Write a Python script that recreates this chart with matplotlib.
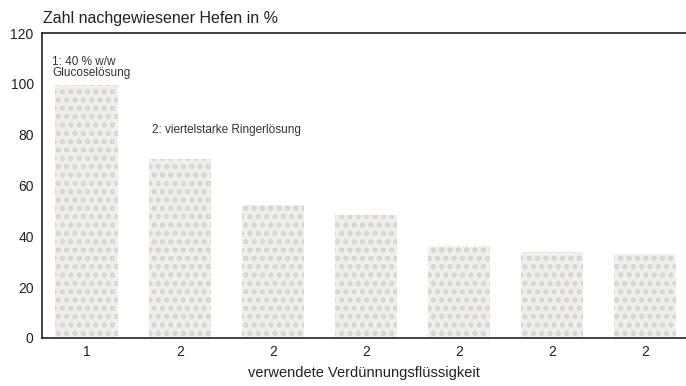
import numpy as np
import matplotlib.pyplot as plt

plt.rcParams['font.family'] = ['Liberation Sans', 'DejaVu Sans']
plt.rcParams['hatch.linewidth'] = 1.2

labels = ["1", "2", "2", "2", "2", "2", "2"]
values = [99.5, 70.5, 52.5, 48.5, 36, 34, 33]

fig = plt.figure(figsize=(6.86, 3.86), dpi=100)
ax = fig.add_axes([0.0612, 0.1244, 0.9388, 0.79])

x = np.arange(len(values))
ax.bar(x, values, width=0.67, color='#f1efeb', edgecolor='#d9d6d0', linewidth=0, hatch='oo')

ax.set_xlim(-0.48, 6.44)
ax.set_ylim(0, 120)
ax.set_xticks(x)
ax.set_xticklabels(labels)
ax.set_yticks(range(0, 121, 20))
ax.tick_params(length=0, labelsize=10, colors='#222222')
ax.tick_params(axis='y', pad=6)
ax.tick_params(axis='x', pad=5)
for s in ['left', 'bottom', 'top']:
    ax.spines[s].set_color('#222222')
    ax.spines[s].set_linewidth(1.2)
ax.spines['right'].set_visible(False)

ax.set_xlabel("verwendete Verdünnungsflüssigkeit", fontsize=10.5, color='#222222', labelpad=5)
fig.text(0.062, 0.952, "Zahl nachgewiesener Hefen in %", fontsize=11.5, color='#222222', va='center', ha='left')

ax.text(-0.37, 111, "1: 40 % w/w\nGlucoselösung", fontsize=8.5, color='#333333',
        va='top', ha='left', linespacing=0.95)
ax.text(0.7, 82, "2: viertelstarke Ringerlösung", fontsize=8.5, color='#333333',
        va='center', ha='left')

fig.savefig("out.png", dpi=100)
